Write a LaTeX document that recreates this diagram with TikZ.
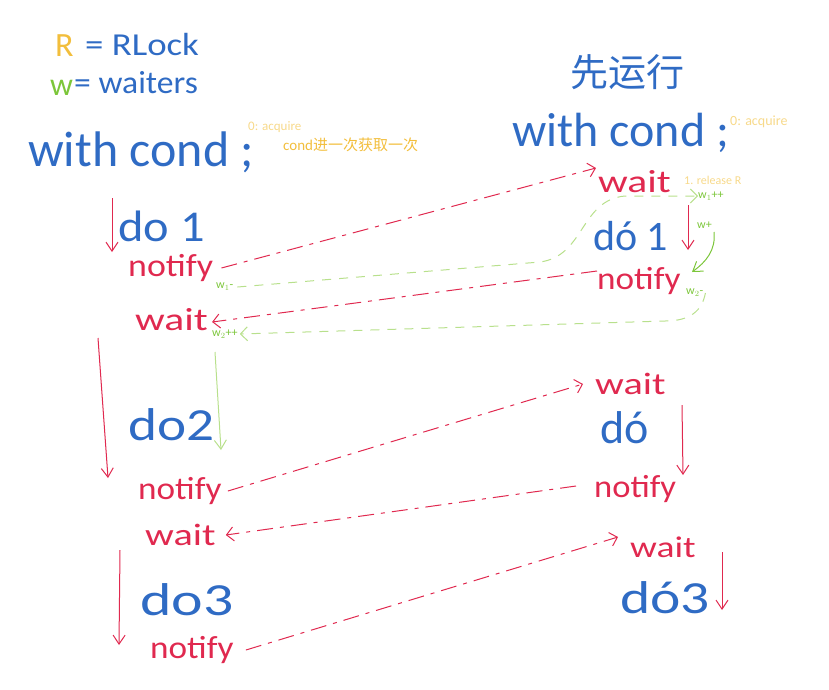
\documentclass[tikz,border=0pt]{standalone}
\usepackage{fontspec}
\usepackage{graphicx}
\setmainfont{Carlito}
\newfontfamily\cjk{Noto Sans CJK SC}
\usetikzlibrary{arrows.meta}
\definecolor{hb}{HTML}{2F6BC4}
\definecolor{hr}{HTML}{E0294F}
\definecolor{hg}{HTML}{7CC63A}
\definecolor{hlg}{HTML}{B8E08C}
\definecolor{ho}{HTML}{F2BE3C}
\definecolor{hlo}{HTML}{F7D98A}
\newcommand{\fsz}[1]{\fontsize{#1}{#1}\selectfont}
\newcommand{\hs}[2]{\scalebox{#1}[1]{#2}}
\begin{document}
\begin{tikzpicture}[x=1pt,y=-1pt,
  every node/.style={inner sep=0pt,anchor=west},
  bt/.style={text=hb,font=\fsz{#1}},
  rt/.style={text=hr,font=\fsz{#1}},
  gt/.style={text=hg,font=\fsz{#1}},
  ot/.style={text=ho,font=\fsz{#1}},
  lot/.style={text=hlo,font=\fsz{#1}},
  barb/.style={-{Straight Barb[length=7pt,width=14pt]}},
  rdash/.style={draw=hr,line width=1pt,barb,dash pattern=on 16pt off 7pt on 4pt off 7pt},
  gdash/.style={draw=hlg,line width=1pt,barb,dash pattern=on 9pt off 8pt},
  rarrow/.style={draw=hr,line width=1pt,-{Straight Barb[length=9pt,width=12pt]}},
  garrow/.style={draw=hg,line width=1pt,-{Straight Barb[length=9pt,width=12pt]}}]
\useasboundingbox (0,0) rectangle (829,689);
% legend
\node[ot=34] (R) at (55,46) {R};
\node[bt=32] (rlock) at (85,44) {\hs{1.15}{= RLock}};
\node[gt=32] (w) at (50,88) {w};
\node[bt=32] (waiters) at (74,83) {\hs{1.05}{= waiters}};
% left header
\node[bt=50] (with1) at (28,152) {with cond ;};
\node[lot=13] (acq1) at (248,127) {0: acquire};
\node[ot=15] (cn) at (283,145) {cond{\cjk 进一次获取一次}};
% right header
\node[bt=38] (xian) at (570,72) {\cjk 先运行};
\node[bt=48] (with2) at (512,133) {with cond ;};
\node[lot=14] (acq2) at (730,122) {0: acquire};
% right block 1
\node[rt=32] (wait1r) at (598,182) {\hs{1.3}{wait}};
\node[lot=12] (rel) at (684,180) {1. release R};
\node[gt=12] (w1pp) at (698,196) {w$_1$++};
\node[bt=42] (do1r) at (593,236) {dó 1};
\node[gt=12] (wp) at (697,225) {w+};
\node[rt=32] (not1r) at (597,281) {\hs{1.1}{notify}};
\node[gt=12] (w2m) at (686,293) {w$_2$-};
% left block 1
\node[bt=44] (do1) at (118,226) {\hs{1.1}{do 1}};
\node[rt=32] (not1) at (128,268) {\hs{1.12}{notify}};
\node[gt=12] (w1m) at (216,287) {w$_1$-};
\node[rt=32] (wait1) at (135,320) {\hs{1.3}{wait}};
\node[gt=12] (w2pp) at (212,334) {w$_2$++};
% block 2
\node[bt=46] (do2) at (128,425) {\hs{1.2}{do2}};
\node[rt=32] (not2) at (138,491) {\hs{1.1}{notify}};
\node[rt=31] (wait2r) at (595,384) {\hs{1.3}{wait}};
\node[bt=46] (do2r) at (600,428) {dó};
\node[rt=32] (not2r) at (594,489) {\hs{1.08}{notify}};
\node[rt=31] (wait3) at (145,535) {\hs{1.3}{wait}};
% block 3
\node[bt=46] (do3) at (140,600) {\hs{1.3}{do3}};
\node[rt=32] (not3) at (150,650) {\hs{1.1}{notify}};
\node[rt=30] (wait3r) at (630,547) {\hs{1.25}{wait}};
\node[bt=46] (do3r) at (620,598) {\hs{1.25}{dó3}};
% vertical arrows
\coordinate (a1s) at (112,198); \coordinate (a1e) at (112,252);
\draw[rarrow] (a1s) -- (a1e);
\coordinate (a2s) at (688,205); \coordinate (a2e) at (688,250);
\draw[rarrow] (a2s) -- (a2e);
\coordinate (a3s) at (98,338); \coordinate (a3e) at (108,478);
\draw[rarrow] (a3s) -- (a3e);
\coordinate (a4s) at (215,352); \coordinate (a4e) at (221,450);
\draw[draw=hlg,line width=1pt,-{Straight Barb[length=9pt,width=12pt]}] (a4s) -- (a4e);
\coordinate (a5s) at (682,405); \coordinate (a5e) at (683,475);
\draw[rarrow] (a5s) -- (a5e);
\coordinate (a6s) at (120,550); \coordinate (a6e) at (119,645);
\draw[rarrow] (a6s) -- (a6e);
\coordinate (a7s) at (722,552); \coordinate (a7e) at (722,610);
\draw[rarrow] (a7s) -- (a7e);
% green curved arrow w+
\coordinate (g1s) at (714,232); \coordinate (g1e) at (692,272);
\draw[garrow] (g1s) .. controls (716,250) and (706,262) .. (g1e);
% cross connectors
\draw[rdash] ([xshift=8pt]not1.east) -- ([xshift=-2pt,yshift=14pt]wait1r.west);
\draw[gdash] ([xshift=4pt]w1m.east) -- (540,262) .. controls (585,256) and (580,200) .. (625,196) -- (w1pp.west);
\draw[rdash] ([yshift=10pt]not1r.west) -- ([xshift=4pt,yshift=-2pt]wait1.east);
\draw[gdash] ([xshift=2pt]w2m.east) .. controls (702,311) and (690,321) .. (665,321) -- ([xshift=2pt]w2pp.east);
\draw[rdash] ([xshift=6pt]not2.east) -- ([xshift=-12pt]wait2r.west);
\draw[rdash] ([xshift=-18pt,yshift=3pt]not2r.west) -- ([xshift=10pt]wait3.east);
\draw[rdash] ([xshift=12pt]not3.east) -- ([xshift=-12pt,yshift=10pt]wait3r.west);
\end{tikzpicture}
\end{document}
